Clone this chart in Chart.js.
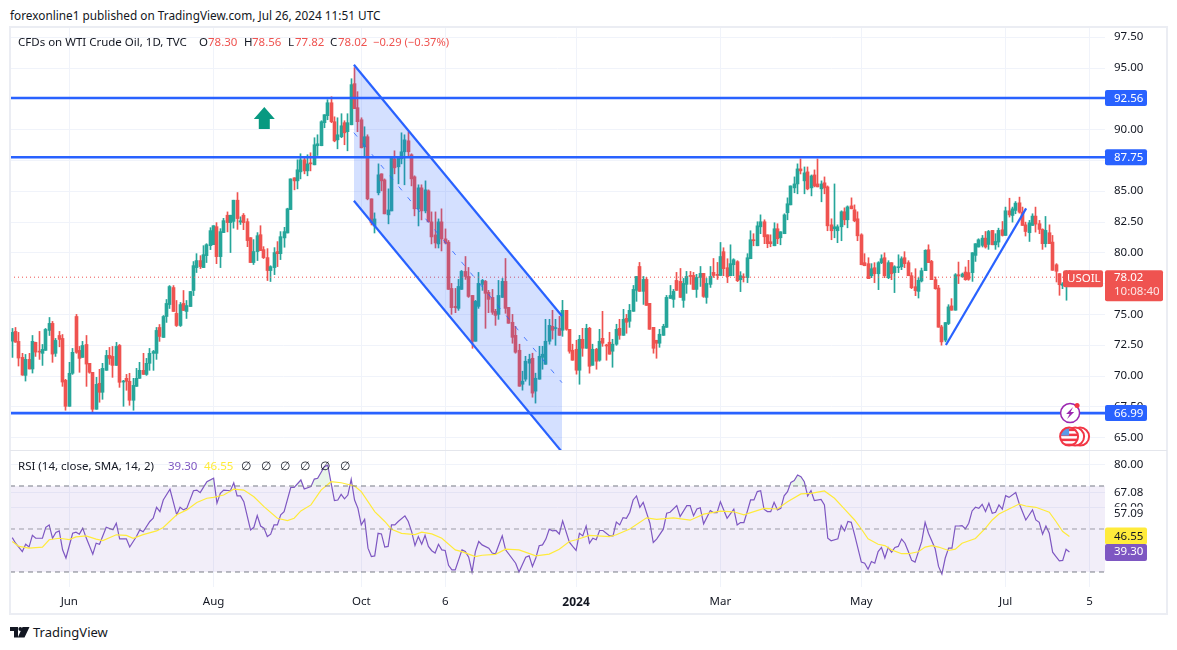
<!DOCTYPE html>
<html>
<head>
<meta charset="utf-8">
<title>USOIL</title>
<script src="https://cdn.jsdelivr.net/npm/chart.js@4/dist/chart.umd.js"></script>
<style>
html, body { margin: 0; padding: 0; background: #fff; width: 1177px; height: 650px; overflow: hidden; }
body { font-family: "Noto Sans", sans-serif; color: #131722; }
canvas { position: absolute; left: 10px; }
#priceChart { top: 28px; }
#rsiChart { top: 451px; }
.txt { position: absolute; white-space: pre; font-size: 11.5px; line-height: 14px; z-index: 3; }
.red { color: #EF5350; }
#frame { position: absolute; left: 9px; top: 26px; width: 1155px; height: 585px; border: 2px solid #EBEDF3; z-index: 2; }
#sep { position: absolute; left: 10px; top: 450px; width: 1157px; height: 1px; background: #E4E6EC; z-index: 2; }
</style>
</head>
<body>
<div class="txt" style="left:10px;top:8px;font-size:11.8px">forexonline1 published on TradingView.com, Jul 26, 2024 11:51 UTC</div>
<div id="frame"></div>
<div id="sep"></div>
<canvas id="priceChart" width="1157" height="422"></canvas>
<canvas id="rsiChart" width="1157" height="164"></canvas>

<div class="txt" style="left:18px;top:35px">CFDs on WTI Crude Oil, 1D, TVC</div>
<div class="txt" style="left:199px;top:35px">O</div><div class="txt red" style="left:208px;top:35px">78.30</div>
<div class="txt" style="left:244px;top:35px">H</div><div class="txt red" style="left:252px;top:35px">78.56</div>
<div class="txt" style="left:288px;top:35px">L</div><div class="txt red" style="left:295px;top:35px">77.82</div>
<div class="txt" style="left:330px;top:35px">C</div><div class="txt red" style="left:338px;top:35px">78.02</div>
<div class="txt red" style="left:373px;top:35px;font-size:11.2px">−0.29 (−0.37%)</div>

<div class="txt" style="left:18px;top:459px">RSI (14, close, SMA, 14, 2)</div>
<div class="txt" style="left:168px;top:459px;color:#7E57C2">39.30</div>
<div class="txt" style="left:204px;top:459px;color:#FFEB3B">46.55</div>
<div class="txt" style="left:241px;top:459px">∅</div>
<div class="txt" style="left:261px;top:459px">∅</div>
<div class="txt" style="left:280px;top:459px">∅</div>
<div class="txt" style="left:300px;top:459px">∅</div>
<div class="txt" style="left:320px;top:459px">∅</div>
<div class="txt" style="left:340px;top:459px">∅</div>

<svg style="position:absolute;left:10px;top:627px" width="20" height="11" viewBox="0 0 20 11">
  <path d="M0 0h8v10.500H4V4H0z M12.500 0h7l-5 10.500H7.800z" fill="#131722"/><circle cx="10.300" cy="2" r="1.900" fill="#131722"/>
</svg>
<div class="txt" style="left:33px;top:624px;font-size:13px;line-height:16px">TradingView</div>

<script>
// candles, one per daily bar (bar 0 = late April 2023)
const opens = [
  72.83,73.62,72.81,71.51,70.05,71.35,70.57,72.73,71.99,71.84,
  72.08,73.70,74.27,71.84,73.29,73.05,69.65,67.54,70.22,74.83,
  72.08,71.51,72.56,71.03,70.30,67.30,69.41,68.68,70.46,71.67,
  71.59,70.86,72.48,69.51,69.81,69.57,68.03,69.16,69.81,70.46,
  70.13,71.03,71.84,71.84,73.94,73.13,74.83,75.80,77.18,75.08,
  74.10,75.89,75.24,75.64,76.94,78.80,79.37,78.80,79.77,80.58,
  80.66,82.12,79.69,81.64,83.05,82.45,82.55,84.27,82.50,83.05,
  82.53,81.23,79.21,80.10,81.47,80.26,79.61,78.56,78.80,80.10,
  79.93,81.21,81.61,83.51,86.09,85.84,86.57,87.55,86.65,87.30,
  87.14,88.69,88.69,90.56,91.13,92.18,90.64,89.17,89.42,90.56,
  89.83,90.39,93.73,91.78,90.80,88.61,89.42,84.38,82.18,84.87,
  86.41,85.92,83.08,83.40,87.63,86.98,87.63,88.20,89.09,87.96,
  86.17,83.57,85.27,83.40,85.03,82.51,81.45,80.72,82.51,81.13,
  80.86,77.11,75.65,75.49,77.03,78.49,78.08,76.54,72.82,75.65,
  77.44,77.68,76.79,76.38,75.25,75.00,76.38,77.68,75.57,74.36,
  73.30,72.09,69.33,69.74,71.04,71.44,68.77,69.74,71.52,70.95,
  72.82,74.03,73.85,73.87,73.71,75.33,73.79,72.09,72.17,70.47,
  72.98,72.25,73.87,70.87,72.17,71.28,73.06,72.49,72.74,72.01,
  72.58,73.87,73.30,74.68,74.44,75.25,76.95,78.89,76.87,77.84,
  75.90,73.95,72.90,72.66,73.30,73.95,76.30,76.22,77.76,77.68,
  76.14,77.44,78.16,78.16,77.03,78.00,78.33,76.38,77.44,78.41,
  78.25,78.16,80.09,78.79,78.14,79.03,79.28,77.82,78.06,77.98,
  79.52,81.06,80.57,82.11,82.52,81.46,80.90,80.57,81.95,81.22,
  81.55,83.25,83.89,85.27,85.59,86.81,85.84,86.57,85.27,86.32,
  85.59,85.19,85.68,85.35,82.27,81.95,81.79,82.11,83.33,82.68,
  83.81,83.49,82.76,81.46,79.20,79.12,78.14,78.79,78.30,79.20,
  79.60,77.98,79.20,78.39,78.79,78.87,79.60,79.20,78.14,77.25,
  76.87,77.71,78.55,80.25,79.30,77.82,77.14,73.99,72.91,74.26,
  75.69,75.34,78.22,78.04,78.44,78.39,78.39,79.79,80.47,80.60,
  81.19,80.68,81.82,80.65,80.87,81.87,81.41,83.41,83.03,83.44,
  84.06,83.30,82.27,81.63,82.22,82.98,82.36,81.90,80.74,81.63,
  80.87,79.03,78.31,77.36,77.36,78.30
];
const highs = [
  73.86,73.94,73.54,71.84,71.75,71.84,73.29,72.75,73.62,72.56,
  73.86,74.75,74.43,73.05,73.62,73.37,69.73,71.11,72.24,75.00,
  72.40,72.81,73.29,71.03,70.30,69.89,70.54,71.03,72.08,72.32,
  72.40,72.73,72.56,69.65,70.13,70.22,69.81,70.62,71.11,71.84,
  71.43,72.24,72.08,73.94,74.18,74.91,76.21,77.34,77.34,76.13,
  75.97,76.94,76.13,76.86,79.29,79.93,79.77,80.58,80.74,82.04,
  82.20,82.45,81.96,82.80,83.32,83.05,84.27,84.89,82.92,83.19,
  82.77,81.23,81.07,81.64,82.20,80.50,80.34,78.95,80.42,80.91,
  81.72,82.07,83.62,86.00,86.09,87.55,88.04,87.79,87.96,88.12,
  89.34,89.58,90.72,91.21,92.43,92.67,91.04,90.96,91.29,90.72,
  91.29,94.13,95.03,93.08,90.96,90.23,89.58,84.38,83.24,87.22,
  86.41,86.00,85.19,87.79,88.28,87.79,89.74,89.58,89.83,88.04,
  86.25,85.52,85.52,85.84,85.11,83.32,83.32,82.75,83.57,81.94,
  81.00,77.52,77.11,77.84,78.57,79.70,78.81,76.54,76.14,78.41,
  77.84,77.76,76.95,77.03,75.41,77.76,77.92,79.54,75.57,75.00,
  74.03,72.58,70.39,71.60,71.77,71.85,70.23,72.41,72.41,74.60,
  74.60,75.33,74.60,74.84,76.14,75.33,73.79,72.58,72.90,73.30,
  73.87,74.20,73.95,72.58,72.25,73.79,75.25,72.58,73.55,72.98,
  74.20,74.60,75.41,75.00,75.81,77.35,78.08,79.22,78.08,78.00,
  75.90,73.95,72.90,73.79,74.20,76.54,77.35,77.03,78.41,78.73,
  77.92,78.49,78.49,78.41,78.25,78.89,78.33,77.92,78.89,79.54,
  79.22,80.84,80.41,79.52,80.65,79.52,79.36,78.47,78.30,79.93,
  81.79,81.55,82.52,83.08,82.68,81.46,81.46,82.44,82.36,81.71,
  83.17,84.46,85.43,86.16,87.22,87.62,86.97,86.97,86.32,86.73,
  87.62,85.84,86.16,85.43,82.76,85.59,82.27,83.41,83.65,83.81,
  84.46,83.89,83.33,81.55,79.93,79.60,79.12,79.20,79.28,79.84,
  80.00,79.36,79.20,78.95,79.84,79.68,80.09,79.36,78.39,78.71,
  77.98,78.76,80.25,80.65,79.39,78.04,77.36,74.12,74.34,75.79,
  76.28,78.31,79.25,78.36,78.85,79.39,80.01,80.74,81.14,81.41,
  81.73,81.82,81.82,81.55,82.00,82.54,83.71,84.43,83.71,84.16,
  84.52,83.71,82.49,82.63,83.17,83.71,82.63,81.95,82.95,82.27,
  81.41,79.12,78.31,77.58,78.55,78.56
];
const lows = [
  71.51,72.73,70.81,70.05,69.59,70.57,70.24,71.59,71.35,70.86,
  72.08,73.29,71.11,71.59,72.37,69.16,67.22,67.54,70.13,71.84,
  70.30,71.51,69.16,70.22,66.97,67.30,67.87,68.11,70.46,70.94,
  69.89,70.86,69.08,67.54,68.84,67.62,67.22,69.16,69.81,70.13,
  70.05,70.46,70.46,71.35,72.81,73.13,74.35,75.48,75.24,74.02,
  74.02,75.32,74.67,75.64,76.53,78.40,78.72,78.80,79.21,80.26,
  80.66,79.12,78.80,81.64,81.70,80.02,82.00,81.90,82.30,81.88,
  80.50,79.21,79.05,79.37,80.18,79.53,77.75,77.67,78.23,78.88,
  79.45,80.45,81.61,83.51,85.11,85.19,86.00,86.41,86.25,86.65,
  87.14,87.90,88.69,90.15,90.80,90.56,89.01,88.44,89.34,88.77,
  88.28,90.39,91.70,89.83,88.52,87.87,84.30,82.26,81.61,84.70,
  85.03,83.16,82.35,83.40,86.41,85.60,87.22,85.52,87.87,85.43,
  83.00,82.18,82.67,83.24,82.51,80.72,80.39,80.39,80.15,80.72,
  77.03,75.00,75.14,75.33,77.03,77.84,76.38,72.25,72.82,75.49,
  76.95,73.87,75.14,75.00,74.11,74.60,76.38,75.09,74.28,72.66,
  71.85,69.17,68.85,69.58,69.25,68.28,67.80,69.74,70.55,70.95,
  72.58,73.00,72.49,73.30,73.22,73.71,71.85,71.28,70.15,69.33,
  71.60,72.25,70.23,70.87,70.55,71.20,72.41,71.28,71.77,70.71,
  72.49,72.98,73.30,73.47,73.95,75.25,76.06,76.87,75.81,75.73,
  73.79,71.85,71.44,72.33,73.30,73.95,76.30,75.57,76.95,76.38,
  75.57,76.71,77.44,77.03,76.38,77.27,76.38,75.90,77.19,78.00,
  77.84,78.16,78.14,77.58,78.14,78.14,77.66,76.85,77.63,77.58,
  79.52,80.57,80.57,81.55,80.74,80.41,80.49,80.57,80.74,80.65,
  81.55,82.68,83.89,84.87,84.79,86.40,84.79,85.11,84.62,85.35,
  85.35,84.14,84.79,81.79,81.06,81.22,80.82,80.98,82.27,82.03,
  83.57,82.52,80.98,79.03,78.95,77.90,77.98,77.58,77.01,79.12,
  77.98,77.90,77.82,76.77,78.39,78.63,78.79,78.14,77.09,76.52,
  76.33,77.63,78.55,79.20,77.82,77.04,73.96,72.50,72.77,74.17,
  75.34,75.34,77.50,78.04,77.77,77.77,77.68,79.30,80.47,80.47,
  80.38,80.28,80.65,80.28,80.47,81.36,81.41,82.90,82.49,83.17,
  83.22,82.22,81.36,80.92,82.22,81.68,81.55,80.28,80.47,80.74,
  78.58,77.63,76.55,77.09,76.15,77.82
];
const closes = [
  73.54,72.75,71.46,70.08,71.35,70.57,72.81,71.94,71.94,72.16,
  73.78,74.27,71.78,72.89,72.97,69.51,67.54,70.22,71.92,71.92,
  71.43,72.48,70.97,70.30,67.30,69.32,68.68,70.62,71.67,71.43,
  70.86,72.40,69.49,69.57,69.57,68.03,69.24,69.81,70.46,70.13,
  71.03,71.84,71.99,73.70,73.21,74.83,75.89,77.26,75.24,74.10,
  75.80,75.32,75.72,76.86,78.96,79.37,78.88,79.85,80.66,81.80,
  82.20,79.69,81.72,82.61,82.45,83.05,84.27,82.78,82.60,82.45,
  80.99,79.21,80.10,81.39,80.18,79.61,78.56,78.88,80.02,79.93,
  81.31,81.72,83.57,86.00,85.84,86.74,87.55,86.65,87.22,87.22,
  88.77,88.85,90.64,91.21,92.18,90.64,89.09,89.58,90.31,89.74,
  90.56,93.65,91.70,90.64,88.52,89.42,84.38,82.43,82.75,86.33,
  85.84,83.16,83.48,87.71,86.90,87.71,88.20,89.17,88.20,86.00,
  83.57,85.27,83.40,85.11,82.51,81.29,80.80,82.51,81.13,80.80,
  77.03,75.55,75.55,77.27,78.49,78.08,76.46,72.82,76.06,77.52,
  77.76,76.71,76.22,75.17,74.92,76.54,77.68,75.49,74.28,73.14,
  71.93,69.17,69.58,71.20,71.36,68.61,69.82,71.60,71.77,72.82,
  74.11,73.71,73.87,73.30,75.33,73.79,72.01,71.28,70.47,72.98,
  72.25,73.87,70.79,72.17,71.20,72.82,72.66,72.44,71.77,72.58,
  73.79,73.30,74.60,74.36,75.33,77.03,78.08,76.87,77.84,75.73,
  73.79,72.25,72.66,73.39,74.03,76.38,76.54,76.87,76.95,76.38,
  77.52,78.08,78.08,77.03,78.00,78.33,76.46,77.52,78.08,78.16,
  78.16,79.70,78.71,78.06,79.12,79.44,77.74,78.14,77.98,79.60,
  81.06,80.98,82.19,82.52,81.30,80.74,80.74,81.95,81.14,81.71,
  83.08,83.98,85.43,85.59,86.81,86.65,86.49,85.19,86.24,85.43,
  85.35,85.59,85.27,82.19,81.79,82.11,82.11,83.33,82.68,83.73,
  83.57,82.60,81.38,79.03,78.95,77.90,78.71,78.30,79.20,79.52,
  78.14,79.20,78.30,78.87,78.87,79.52,79.12,78.14,77.17,76.93,
  77.77,78.55,80.20,79.20,77.82,77.09,73.96,72.77,74.34,75.61,
  75.34,78.22,78.12,78.28,77.82,77.85,80.01,80.74,81.06,81.19,
  80.47,81.73,80.65,80.92,81.82,81.41,83.41,83.08,83.57,84.03,
  83.30,82.22,81.73,82.44,82.98,82.33,81.90,80.74,81.82,80.74,
  78.58,78.50,77.41,77.47,78.31,78.02
];

// rsi line and its sma, read at the bends of each line
const rsiBars = [0,1,3,4,5,6,7,9,10,11,12,13,14,15,16,18,19,20,21,22,24,25,26,28,30,31,32,34,35,37,38,39,41,42,43,44,45,47,49,50,51,52,54,55,56,58,60,61,62,63,65,66,67,68,69,71,72,73,74,75,76,77,78,79,80,81,83,84,86,87,89,90,91,93,94,96,97,98,99,100,101,102,103,104,105,106,107,108,109,110,111,112,113,114,115,117,118,119,120,121,122,123,124,125,126,127,128,129,130,131,132,134,135,136,137,138,139,140,142,143,144,146,147,150,151,153,154,155,156,157,158,159,160,161,162,163,164,166,167,168,169,170,171,172,173,174,175,176,178,179,180,181,182,183,184,185,186,187,188,190,191,192,194,195,196,198,199,201,202,203,204,205,206,208,209,210,211,213,215,216,217,218,219,220,221,222,223,224,225,226,227,228,229,230,231,232,233,234,235,236,237,238,239,241,242,243,244,246,247,248,249,250,251,253,254,255,256,257,258,259,260,261,262,263,264,265,266,267,268,269,271,272,273,275,276,277,278,279,280,281,282,283,284,285,286,287,288,289,290,291,292,293,294,295,296,297,299,300,302,303,304,305,306,307,308,309,310,311,312,313,314,315];
const rsiValues = [46.0,43.4,39.5,42.9,41.6,47.1,45.7,45.7,50.8,51.9,45.7,48.4,49.1,40.3,36.5,48.0,48.5,47.6,50.4,46.0,38.3,43.4,42.9,50.8,49.6,52.7,45.4,45.4,41.6,46.5,49.6,48.7,53.5,55.0,60.1,58.1,63.5,68.5,56.6,60.1,58.9,59.6,67.8,68.1,66.9,72.0,73.6,62.0,66.6,68.1,67.8,71.5,65.4,65.4,62.7,49.6,50.8,56.2,51.4,50.4,46.5,47.6,51.9,51.9,56.6,58.1,69.4,69.4,72.8,68.6,69.7,73.2,73.6,79.0,79.7,63.2,63.5,66.1,64.0,65.8,73.1,63.5,59.6,51.9,54.5,41.1,37.2,37.5,48.0,47.7,41.6,41.9,51.9,51.9,53.5,56.1,53.5,48.8,42.3,46.5,42.9,47.0,41.9,39.9,38.8,42.9,40.3,40.0,33.1,31.0,31.0,40.3,39.5,36.9,30.0,39.5,44.2,42.6,41.1,38.8,38.5,46.8,40.3,34.1,30.0,36.9,37.5,32.6,36.5,42.2,42.6,45.3,49.9,49.1,49.3,47.7,53.8,43.9,41.9,40.0,48.0,46.8,51.4,43.4,45.7,45.0,49.3,49.3,46.8,46.8,53.2,51.9,55.3,55.0,57.8,63.5,65.4,60.1,62.4,52.7,43.7,45.3,49.9,57.3,57.8,60.9,55.8,60.9,60.9,56.2,59.3,59.9,52.4,58.6,57.6,57.6,62.7,55.0,59.2,51.9,53.0,53.0,58.1,63.5,63.5,67.4,67.8,59.2,58.1,58.1,62.4,58.9,59.6,65.4,67.4,71.7,72.5,75.1,74.3,72.0,65.4,67.8,63.2,63.8,61.2,45.7,44.5,45.4,51.6,49.1,53.5,53.1,47.3,34.6,34.1,31.3,34.9,34.1,39.5,41.4,36.5,41.4,39.2,41.4,41.9,45.3,43.4,39.5,35.4,34.6,44.2,53.1,48.0,40.8,32.6,29.0,36.5,41.1,41.1,51.4,51.4,51.6,50.1,52.7,58.4,60.1,59.6,61.5,58.1,62.0,57.3,57.8,61.2,59.2,65.5,64.7,67.0,62.0,54.2,56.5,58.9,54.2,53.1,47.6,51.4,48.0,39.2,37.2,35.2,35.4,40.6,39.3];
const smaBars = [0,2,5,9,11,14,17,19,22,25,27,31,34,36,39,43,45,49,52,55,58,60,63,66,69,72,75,79,82,84,86,89,92,95,98,102,104,108,111,113,116,120,122,125,128,132,134,138,140,144,147,151,156,160,163,166,168,172,178,180,184,189,192,197,202,206,211,215,218,224,228,231,235,238,242,245,248,251,253,255,258,260,262,265,267,270,272,274,276,279,281,283,287,290,292,294,297,300,302,305,309,311,313,315];
const smaValues = [44.2,41.9,41.1,41.6,45.0,45.7,45.1,46.3,46.8,45.3,44.6,47.3,47.0,45.7,47.4,49.1,50.7,56.6,58.9,62.3,64.3,64.7,65.8,68.5,68.1,65.0,60.4,55.0,53.9,55.0,58.4,61.2,68.1,72.0,71.5,70.0,67.4,58.1,53.5,49.9,48.0,47.4,48.5,47.7,45.7,40.3,39.5,37.2,37.8,38.2,40.6,40.3,37.5,38.3,40.6,44.2,45.0,47.0,46.5,47.3,50.0,55.2,54.5,55.2,54.1,56.9,58.3,58.0,56.6,59.6,59.3,62.7,66.3,66.6,67.7,64.3,59.2,54.2,50.0,45.4,42.9,42.3,40.3,38.5,38.5,39.4,41.6,42.3,41.6,40.0,40.6,43.4,45.6,50.4,54.2,57.0,59.3,61.6,60.7,60.1,57.8,53.5,48.8,46.55];

const priceTicks = [65,67.5,70,72.5,75,77.5,80,82.5,85,87.5,90,92.5,95,97.5];
const rsiTicks = [80,67.08,60];
const timeTicks = [17,60,104,129,168,211,253,296,321];
const timeLabels = ["Jun","Aug","Oct","6","2024","Mar","May","Jul","5"];

// drawings on the chart
const levels = [92.56,87.75,66.99];
const channelBars = [101.8,163.8];
const channelTop = [95.27,74.87];
const channelMid = [89.75,69.46];
const channelBottom = [84.23,63.83];
const trendBars = [278.2,302.1];
const trendPrices = [72.52,83.61];
const lastPrice = 78.02;

const X_MIN = -0.67, X_MAX = 325.6;
const GREEN = "#26A69A", RED = "#EF5350", BLUE = "#2962FF", GRID = "#F0F3FA";
const FONT = "'Noto Sans', sans-serif";

Chart.defaults.font.family = FONT;
Chart.defaults.font.size = 11.5;
Chart.defaults.color = "#131722";

function hline(y, color, width, dash) {
  return { type: "line", data: [{x: X_MIN, y: y}, {x: X_MAX, y: y}], borderColor: color, borderWidth: width,
           borderDash: dash || [], pointRadius: 0, order: 0 };
}
function pairs(xs, ys) {
  return xs.map((x, i) => ({x: x, y: ys[i]}));
}

// keeps the 1px wicks and 3px bodies on whole pixels
const snapBars = {
  id: "snapBars",
  beforeDatasetsDraw(chart) {
    chart.getSortedVisibleDatasetMetas().forEach(meta => {
      if (meta.type !== "bar") return;
      meta.data.forEach(el => { el.x = Math.round(el.x - 1.5) + 1.5; });
    });
  }
};

function box(ctx, x, y, w, h, color) {
  ctx.save();
  ctx.fillStyle = color;
  ctx.beginPath();
  ctx.roundRect(x, y, w, h, 2);
  ctx.fill();
  ctx.restore();
}
function label(ctx, text, x, y, color) {
  ctx.fillStyle = color;
  ctx.textAlign = "left";
  ctx.textBaseline = "middle";
  ctx.fillText(text, x, y);
}

const priceOverlay = {
  id: "priceOverlay",
  afterDraw(chart) {
    const ctx = chart.ctx, sx = chart.scales.x, sy = chart.scales.y;
    const right = chart.chartArea.right;
    ctx.save();
    ctx.font = "11.5px " + FONT;

    // boxes of the horizontal levels
    levels.forEach(v => {
      const y = sy.getPixelForValue(v);
      box(ctx, right, y - 8, 42, 16, BLUE);
      label(ctx, v.toFixed(2), right + 9, y + 0.5, "#fff");
    });

    // last price and symbol
    const py = sy.getPixelForValue(lastPrice);
    box(ctx, right - 42, py - 7, 40, 17, RED);
    label(ctx, "USOIL", right - 38, py + 1.5, "#fff");
    box(ctx, right, py - 7, 58, 31, RED);
    label(ctx, lastPrice.toFixed(2), right + 9, py + 1, "#fff");
    label(ctx, "10:08:40", right + 9, py + 15, "rgba(255,255,255,0.85)");

    // up arrow
    const ax = sx.getPixelForValue(75.1), ay = sy.getPixelForValue(91.83);
    ctx.fillStyle = "#089981";
    ctx.beginPath();
    ctx.moveTo(ax, ay);
    ctx.lineTo(ax + 10.5, ay + 12);
    ctx.lineTo(ax + 5.5, ay + 12);
    ctx.lineTo(ax + 5.5, ay + 22);
    ctx.lineTo(ax - 5.5, ay + 22);
    ctx.lineTo(ax - 5.5, ay + 12);
    ctx.lineTo(ax - 10.5, ay + 12);
    ctx.closePath();
    ctx.fill();

    // news icon on the low level
    const ix = sx.getPixelForValue(315.2), iy = sy.getPixelForValue(66.99);
    ctx.fillStyle = "#fff";
    ctx.strokeStyle = "#9C27B0";
    ctx.lineWidth = 1.5;
    ctx.beginPath(); ctx.arc(ix, iy, 9.5, 0, Math.PI * 2); ctx.fill(); ctx.stroke();
    ctx.fillStyle = "#9C27B0";
    ctx.beginPath();
    ctx.moveTo(ix + 3, iy - 6); ctx.lineTo(ix - 4, iy + 1); ctx.lineTo(ix - 0.5, iy + 1);
    ctx.lineTo(ix - 3, iy + 6); ctx.lineTo(ix + 4, iy - 1); ctx.lineTo(ix + 0.5, iy - 1);
    ctx.closePath();
    ctx.fill();
    ctx.fillStyle = "#F23645";
    ctx.beginPath(); ctx.arc(ix + 7, iy - 7.5, 2.5, 0, Math.PI * 2); ctx.fill();

    // flag icons
    const fy = sy.getPixelForValue(65.08);
    [10, 5].forEach(dx => {
      ctx.fillStyle = "#fff";
      ctx.strokeStyle = "#F23645";
      ctx.lineWidth = 2;
      ctx.beginPath(); ctx.arc(ix + dx, fy, 9, 0, Math.PI * 2); ctx.fill(); ctx.stroke();
    });
    ctx.save();
    ctx.fillStyle = "#fff";
    ctx.beginPath(); ctx.arc(ix - 1, fy, 9, 0, Math.PI * 2); ctx.fill(); ctx.clip();
    ctx.fillStyle = "#F23645";
    for (let k = 0; k < 4; k++) ctx.fillRect(ix - 11, fy - 8 + k * 5, 22, 2.5);
    ctx.fillStyle = "#5B9BE8";
    ctx.fillRect(ix - 11, fy - 10, 10, 9);
    ctx.restore();
    ctx.strokeStyle = "#F23645";
    ctx.lineWidth = 2;
    ctx.beginPath(); ctx.arc(ix - 1, fy, 9, 0, Math.PI * 2); ctx.stroke();

    ctx.restore();
  }
};

const rsiOverlay = {
  id: "rsiOverlay",
  afterDraw(chart) {
    const ctx = chart.ctx, sy = chart.scales.y;
    const right = chart.chartArea.right;
    ctx.save();
    ctx.font = "11.5px " + FONT;
    let y = sy.getPixelForValue(57.09);
    ctx.fillStyle = "#fff";
    ctx.fillRect(right, y - 7, 58, 14);
    label(ctx, "57.09", right + 9, y, "#131722");
    y = sy.getPixelForValue(46.55);
    box(ctx, right, y - 9, 42, 17, "#FFEB3B");
    label(ctx, "46.55", right + 9, y, "#131722");
    y = sy.getPixelForValue(39.30);
    box(ctx, right, y - 8, 42, 17, "#7E57C2");
    label(ctx, "39.30", right + 9, y, "#fff");
    ctx.restore();
  }
};

function xScale(showLabels) {
  return {
    type: "linear", min: X_MIN, max: X_MAX, offset: false,
    afterBuildTicks: s => { s.ticks = timeTicks.map(v => ({value: v})); },
    afterFit: s => { s.height = showLabels ? 28 : 0; s.paddingLeft = 0; s.paddingRight = 0; },
    grid: { color: GRID, drawTicks: false, offset: false },
    border: { display: false },
    ticks: {
      display: showLabels, autoSkip: false, maxRotation: 0, padding: 8,
      callback: (v, i) => timeLabels[i],
      font: ctx => ({ family: FONT, size: ctx.tick && ctx.tick.value === 168 ? 12 : 11.5, weight: ctx.tick && ctx.tick.value === 168 ? "bold" : "normal" })
    }
  };
}
function yScale(min, max, list) {
  return {
    position: "right", min: min, max: max,
    afterBuildTicks: s => { s.ticks = list.map(v => ({value: v})); },
    afterFit: s => { s.width = 62; s.paddingTop = 0; s.paddingBottom = 0; },
    grid: { color: GRID, drawTicks: false },
    border: { display: false },
    ticks: { autoSkip: false, padding: 9, callback: v => v.toFixed(2) }
  };
}
const baseOptions = {
  responsive: false, animation: false, devicePixelRatio: 1,
  layout: { padding: 0 },
  plugins: { legend: { display: false }, tooltip: { enabled: false } },
  events: []
};

const candleColors = closes.map((c, i) => c >= opens[i] ? GREEN : RED);

new Chart(document.getElementById("priceChart"), {
  type: "bar",
  data: {
    datasets: [
      { label: "wicks", data: lows.map((l, i) => ({x: i, y: [l, highs[i]]})), backgroundColor: candleColors,
        barThickness: 1, grouped: false, order: 3 },
      { label: "bodies", data: opens.map((o, i) => ({x: i, y: [o, closes[i]]})), backgroundColor: candleColors,
        barThickness: 3, minBarLength: 1, grouped: false, order: 2 },
      { type: "line", label: "channel top", data: pairs(channelBars, channelTop), borderColor: BLUE, borderWidth: 2.2,
        pointRadius: 0, fill: "+1", backgroundColor: "rgba(41,98,255,0.2)", order: 0 },
      { type: "line", label: "channel bottom", data: pairs(channelBars, channelBottom), borderColor: BLUE, borderWidth: 2.2,
        pointRadius: 0, order: 0 },
      { type: "line", label: "channel middle", data: pairs(channelBars, channelMid), borderColor: "rgba(41,98,255,0.8)", borderWidth: 1,
        borderDash: [5, 9], pointRadius: 0, order: 0 },
      { type: "line", label: "trend", data: pairs(trendBars, trendPrices), borderColor: BLUE, borderWidth: 2.2, pointRadius: 0, order: 0 },
      ...levels.map(v => hline(v, BLUE, 2.6)),
      hline(lastPrice, RED, 1, [1, 3])
    ]
  },
  options: {
    ...baseOptions,
    scales: { x: xScale(false), y: yScale(63.994, 98.247, priceTicks) }
  },
  plugins: [snapBars, priceOverlay]
});

new Chart(document.getElementById("rsiChart"), {
  type: "line",
  data: {
    datasets: [
      { data: [{x: X_MIN, y: 70}, {x: X_MAX, y: 70}], borderWidth: 0, pointRadius: 0,
        fill: {value: 30}, backgroundColor: "rgba(126,87,194,0.1)", order: 5 },
      hline(70, "#787B86", 1, [5, 4]),
      hline(50, "rgba(120,123,134,0.7)", 1, [5, 4]),
      hline(30, "#787B86", 1, [5, 4]),
      { label: "RSI", data: pairs(rsiBars, rsiValues), borderColor: "#7E57C2", borderWidth: 1.2, pointRadius: 0,
        fill: { target: {value: 70}, above: "rgba(76,175,80,0.12)", below: "transparent" }, order: 1 },
      { label: "RSI SMA", data: pairs(smaBars, smaValues), borderColor: "#FFEB3B", borderWidth: 1.2, pointRadius: 0, order: 0 }
    ]
  },
  options: {
    ...baseOptions,
    scales: { x: xScale(true), y: yScale(23.02, 86.28, rsiTicks) }
  },
  plugins: [rsiOverlay]
});
</script>
</body>
</html>
